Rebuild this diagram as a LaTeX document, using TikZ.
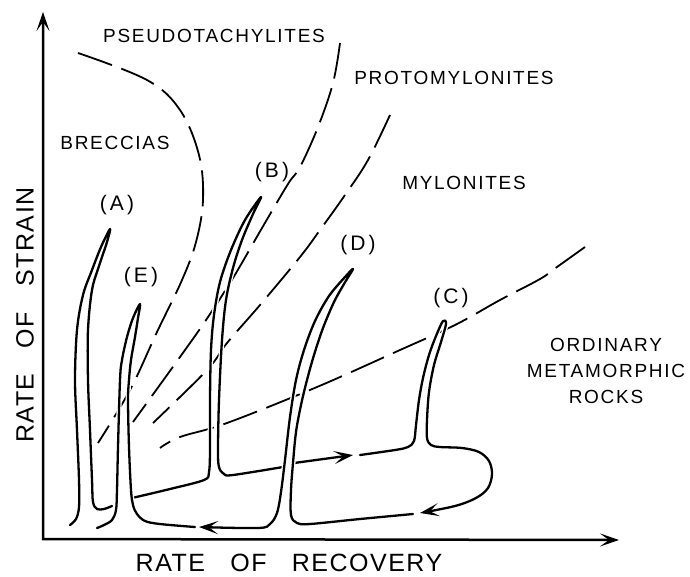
\documentclass[tikz,border=0pt]{standalone}
\usepackage{fontspec}
\setmainfont{Liberation Sans}
\newfontfamily\rockfont{Liberation Sans}[LetterSpace=9]
\newfontfamily\casefont{Liberation Sans}[LetterSpace=15]
\newfontfamily\axfont{Liberation Sans}[LetterSpace=6,WordSpace=3]
\usetikzlibrary{arrows.meta}
\tikzset{
  >={Stealth[length=19pt,width=13pt,inset=9pt]},
  axis/.style={<->,line width=2.5pt},
  bnd/.style={line width=1.8pt,dash pattern=on 36pt off 10pt},
  tube/.style={line width=2.3pt,line join=round,line cap=round,
    preaction={draw=white,line width=5pt}},
  rocklbl/.style={inner sep=0pt,align=center,
    font=\rockfont\fontsize{19}{26}\selectfont},
  caselbl/.style={inner sep=0pt,font=\casefont\fontsize{21}{24}\selectfont},
  axlbl/.style={inner sep=0pt,font=\axfont\fontsize{25}{30}\selectfont},
}
\begin{document}
\begin{tikzpicture}[x=1pt,y=-1pt]
  \useasboundingbox (0,0) rectangle (690,576);
  % axes
  \coordinate (orig) at (43,539);
  \coordinate (ytop) at (43,12);
  \coordinate (xend) at (619,540);
  \draw[axis] (ytop) -- (orig) -- (xend);
  \node[axlbl,rotate=90] (ylbl) at (25,315) {RATE OF STRAIN};
  \node[axlbl] (xlbl) at (289,563) {RATE OF RECOVERY};

  % field boundaries
  \draw[bnd] plot[smooth,tension=0.6] coordinates {(78,53) (147,80) (180,110)
    (199,155) (203,200) (196,242) (182,280) (157,332) (130,390) (98,443)};
  \draw[bnd] plot[smooth,tension=0.6] coordinates {(340,43) (333,83) (318,127)
    (300,167) (288,184) (262,228) (233,278) (206,320) (180,357) (133,422)};
  \draw[bnd] plot[smooth,tension=0.6] coordinates {(390,115) (368,160) (345,195)
    (320,230) (300,257) (260,305) (227,343) (207,370) (153,423)};
  \draw[bnd] plot[smooth,tension=0.6] coordinates {(585,247) (557,267) (540,279)
    (500,300) (455,325) (400,350) (317,387) (227,423) (180,437) (160,448)};

  \node[rocklbl] (pseudo) at (214,36) {PSEUDOTACHYLITES};
  \node[rocklbl] (breccia) at (115,143) {BRECCIAS};
  \node[rocklbl] (proto) at (454,78) {PROTOMYLONITES};
  \node[rocklbl] (mylo) at (464,183) {MYLONITES};
  \node[rocklbl] (ordin) at (606,371) {ORDINARY\\METAMORPHIC\\ROCKS};

  % paths (B first, through-lines last)
  \draw[tube] plot[smooth,tension=0.55] coordinates {(132,498) (170,489)
    (204,480) (209,472) (210,450) (210,400) (211,350) (214,315) (220,282)
    (231,250) (245,220) (261,197) (253,214) (242,240) (233,268) (226,300)
    (222,340) (219,400) (218,450) (219,467) (224,474) (233,475) (283,467)};
  \draw[tube,->] (294,463) -- (353,455);
  \draw[tube,->] plot[smooth,tension=0.55] coordinates {(360,455) (395,450)
    (408,447) (414,441) (416,425) (419,400) (423,378) (429,355) (436,336)
    (443,321) (446,324) (441,342) (434,365) (429,392) (427,420) (427,438)
    (431,445) (440,447) (462,448) (479,452) (489,461) (492,474) (488,488)
    (476,498) (455,506) (420,513)};
  \draw[tube] plot[smooth,tension=0.55] coordinates {(195,527) (160,524)
    (145,521) (137,514) (133,505) (131,490) (129,447) (128,400) (129,380)
    (131,360) (135,337) (138,318) (140,304) (133,318) (127,337) (122,360)
    (120,380) (118,447) (117,490) (116,510) (112,520) (104,525) (97,528)};
  \draw[tube,->] plot[smooth,tension=0.55] coordinates {(413,514) (360,519)
    (310,524) (297,523) (291,515) (291,490) (293,463) (296,432) (301,405)
    (307,380) (314,355) (323,328) (334,302) (344,284) (353,269) (345,277)
    (329,296) (315,321) (304,350) (296,380) (290,417) (285,460) (281,492)
    (277,513) (270,524) (258,528) (199,527)};
  \draw[tube] plot[smooth,tension=0.55] coordinates {(70,525) (76,519)
    (79,507) (79,480) (77,430) (75,380) (77,330) (83,295) (92,270) (101,247)
    (110,229) (107,242) (99,266) (92,290) (88,330) (88,380) (90,430) (92,480)
    (93,502) (97,509) (104,509) (112,506)};

  \node[caselbl] (labA) at (117,205) {(A)};
  \node[caselbl] (labE) at (141,277) {(E)};
  \node[caselbl] (labB) at (272,172) {(B)};
  \node[caselbl] (labD) at (358,245) {(D)};
  \node[caselbl] (labC) at (451,298) {(C)};
\end{tikzpicture}
\end{document}
